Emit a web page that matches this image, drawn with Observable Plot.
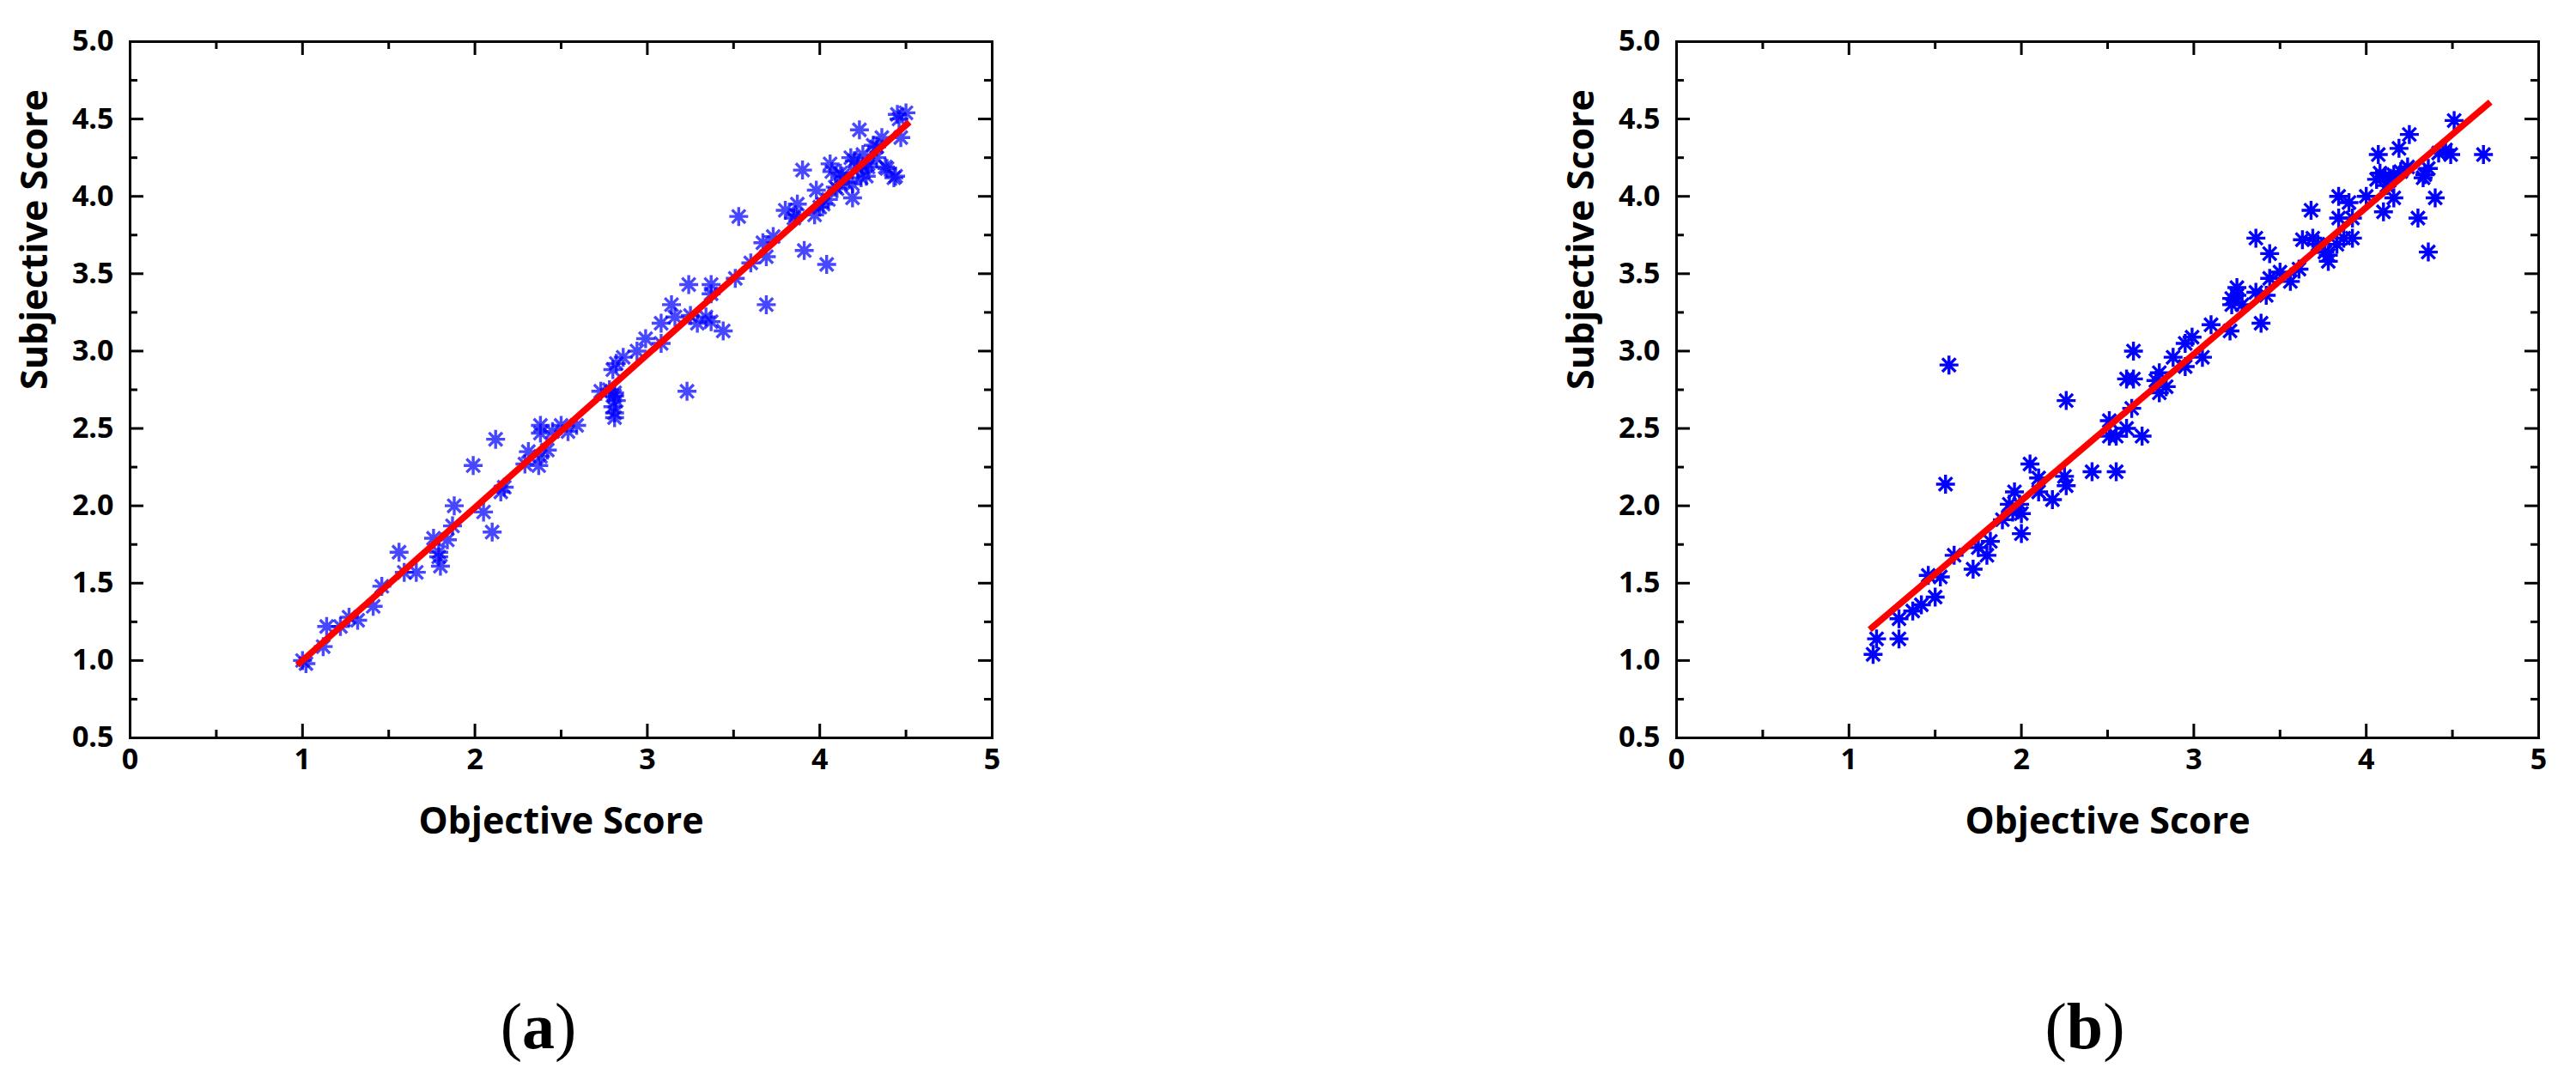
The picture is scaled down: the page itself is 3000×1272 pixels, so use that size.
<!DOCTYPE html>
<html>
<head>
<meta charset="utf-8">
<script src="https://cdn.jsdelivr.net/npm/d3@7"></script>
<script src="https://cdn.jsdelivr.net/npm/@observablehq/plot@0.6"></script>
<style>
  html, body { margin: 0; padding: 0; background: #ffffff; }
  #page { position: relative; width: 3000px; height: 1272px; background: #ffffff; overflow: hidden; }
  .panel { position: absolute; top: 0; }
  .cap { position: absolute; width: 300px; text-align: center; font-family: "Liberation Serif", "Times New Roman", serif; font-size: 76px; line-height: 76px; color: #000; }
  .cap b { font-weight: 700; }
</style>
</head>
<body>
<div id="page">
  <div id="panelA" class="panel" style="left:0px"></div>
  <div id="panelB" class="panel" style="left:1750px"></div>
  <div class="cap" style="left:477px; top:1157px">(<b>a</b>)</div>
  <div class="cap" style="left:2278px; top:1157px">(<b>b</b>)</div>
</div>
<script>
// ---- tick values / labels ----
const xTicks = [0, 1, 2, 3, 4, 5];
const xMinorTicks = [0.5, 1.5, 2.5, 3.5, 4.5];
const yTicks = [0.5, 1.0, 1.5, 2.0, 2.5, 3.0, 3.5, 4.0, 4.5, 5.0];
const yMinorTicks = [0.75, 1.25, 1.75, 2.25, 2.75, 3.25, 3.75, 4.25, 4.75];
const xTitle = "Objective Score";
const yTitle = "Subjective Score";

// ---- panel (a): [objective, subjective] ----
const pointsA = [
  [1.00,1.00],[1.02,0.98],[1.12,1.09],[1.14,1.22],[1.22,1.22],[1.27,1.28],[1.32,1.26],
  [1.41,1.35],[1.46,1.48],[1.56,1.70],[1.59,1.57],[1.66,1.57],[1.76,1.79],[1.79,1.70],
  [1.80,1.61],[1.79,1.67],[1.84,1.78],[1.87,1.87],[1.88,2.00],[1.99,2.26],[2.05,1.96],
  [2.10,1.83],[2.12,2.43],[2.15,2.09],[2.17,2.12],[2.29,2.27],[2.31,2.35],[2.37,2.26],
  [2.38,2.32],[2.42,2.36],[2.38,2.47],[2.38,2.52],[2.45,2.48],[2.50,2.52],[2.54,2.48],
  [2.59,2.52],[2.73,2.74],[2.78,2.75],[2.80,2.88],[2.82,2.92],[2.86,2.96],[2.81,2.73],
  [2.82,2.68],[2.80,2.64],[2.81,2.60],[2.81,2.57],[2.81,2.71],[2.94,3.00],[2.99,3.08],
  [3.08,3.05],[3.08,3.18],[3.14,3.30],[3.16,3.22],[3.23,2.74],[3.24,3.43],[3.25,3.23],
  [3.29,3.18],[3.34,3.22],[3.37,3.19],[3.37,3.43],[3.37,3.37],[3.44,3.13],[3.51,3.47],
  [3.53,3.87],[3.60,3.57],[3.67,3.70],[3.69,3.61],[3.69,3.30],[3.73,3.74],[3.80,3.91],
  [3.85,3.86],[3.86,3.88],[3.87,3.95],[3.90,4.17],[3.91,3.65],[3.97,3.88],[3.98,4.04],
  [4.00,3.93],[4.02,3.95],[4.04,3.56],[4.06,4.21],[4.07,4.16],[4.09,4.06],[4.10,4.05],
  [4.13,4.13],[4.15,4.09],[4.18,4.25],[4.19,3.99],[4.19,4.08],[4.20,4.23],[4.22,4.18],
  [4.23,4.43],[4.24,4.12],[4.27,4.13],[4.28,4.19],[4.28,4.21],[4.31,4.33],[4.33,4.25],
  [4.33,4.32],[4.36,4.38],[4.38,4.19],[4.39,4.18],[4.43,4.12],[4.44,4.13],[4.45,4.53],
  [4.46,4.50],[4.47,4.38],[4.50,4.54],[4.12,4.15],[4.25,4.27],[4.05,3.98]
];
const fitA = [[0.97, 0.97], [4.52, 4.48]];

// ---- panel (b): [objective, subjective] ----
const pointsB = [
  [1.14,1.04],[1.16,1.14],[1.29,1.14],[1.29,1.27],[1.37,1.32],[1.42,1.36],[1.46,1.55],
  [1.50,1.41],[1.53,1.54],[1.56,2.14],[1.58,2.91],[1.61,1.68],[1.72,1.59],[1.75,1.73],
  [1.80,1.68],[1.82,1.77],[1.89,1.91],[1.93,2.01],[1.96,2.09],[1.95,1.96],[2.00,1.95],
  [1.99,2.01],[2.00,1.82],[2.05,2.27],[2.10,2.18],[2.10,2.09],[2.18,2.04],[2.26,2.68],
  [2.25,2.19],[2.26,2.13],[2.41,2.22],[2.55,2.22],[2.51,2.55],[2.51,2.45],[2.55,2.45],
  [2.61,2.50],[2.70,2.45],[2.64,2.63],[2.61,2.82],[2.65,2.82],[2.65,3.00],[2.78,2.81],
  [2.80,2.73],[2.84,2.77],[2.80,2.86],[2.88,2.96],[2.95,2.90],[2.95,3.05],[2.99,3.09],
  [3.05,2.96],[3.10,3.17],[3.21,3.13],[3.22,3.30],[3.25,3.36],[3.22,3.34],[3.28,3.30],
  [3.25,3.41],[3.36,3.38],[3.42,3.36],[3.39,3.18],[3.44,3.47],[3.36,3.73],[3.44,3.63],
  [3.50,3.51],[3.56,3.45],[3.61,3.53],[3.63,3.72],[3.68,3.91],[3.69,3.73],[3.72,3.69],
  [3.76,3.64],[3.78,3.58],[3.78,3.62],[3.83,3.69],[3.84,3.86],[3.84,4.00],[3.87,3.73],
  [3.90,3.96],[3.92,3.73],[3.92,3.86],[4.00,4.00],[4.06,4.11],[4.07,4.27],[4.10,3.90],
  [4.11,4.13],[4.12,4.07],[4.16,4.14],[4.16,3.99],[4.19,4.31],[4.24,4.19],[4.25,4.40],
  [4.30,3.86],[4.34,4.14],[4.36,4.18],[4.36,3.64],[4.40,3.99],[4.42,4.28],[4.46,4.30],
  [4.49,4.27],[4.51,4.49],[4.68,4.27],[4.33,4.12],[4.20,4.16],[4.08,4.15],[4.13,4.10]
];
const fitB = [[1.12, 1.20], [4.72, 4.61]];

// ---- drawing ----
const asterisk = {
  draw(ctx, size) {
    const r = Math.sqrt(size / Math.PI);
    const d = r * Math.SQRT1_2;
    ctx.moveTo(-r, 0); ctx.lineTo(r, 0);
    ctx.moveTo(0, -r); ctx.lineTo(0, r);
    ctx.moveTo(-d, -d); ctx.lineTo(d, d);
    ctx.moveTo(-d, d); ctx.lineTo(d, -d);
  }
};

const FONT = "'Open Sans', 'Noto Sans', sans-serif";

function panel({points, fit, width, marginLeft, dotOpacity}) {
  const height = 1060, marginTop = 48, marginBottom = 201;
  const marginRight = width - marginLeft - 1004;
  const innerW = width - marginLeft - marginRight;
  const innerH = height - marginTop - marginBottom;
  const major = 16, minor = 9, tw = 3;
  return Plot.plot({
    width, height, marginLeft, marginRight, marginTop, marginBottom,
    x: {domain: [0, 5]},
    y: {domain: [0.5, 5]},
    style: {fontFamily: FONT, fontSize: "34px", fontWeight: 700, color: "#000", background: "#fff", overflow: "visible"},
    marks: [
      Plot.dot(points, {x: d => d[0], y: d => d[1], symbol: asterisk, r: 11,
        stroke: "#0000ff", strokeWidth: 3.4, strokeOpacity: dotOpacity, fill: "none"}),
      Plot.line(fit, {x: d => d[0], y: d => d[1], stroke: "#ff0000", strokeWidth: 7.5, strokeLinecap: "butt"}),
      // inward ticks: bottom & top
      Plot.tickX(xTicks, {x: d => d, insetTop: innerH - major, stroke: "#000", strokeWidth: tw, strokeLinecap: "butt"}),
      Plot.tickX(xTicks, {x: d => d, insetBottom: innerH - major, stroke: "#000", strokeWidth: tw, strokeLinecap: "butt"}),
      Plot.tickX(xMinorTicks, {x: d => d, insetTop: innerH - minor, stroke: "#000", strokeWidth: tw, strokeLinecap: "butt"}),
      Plot.tickX(xMinorTicks, {x: d => d, insetBottom: innerH - minor, stroke: "#000", strokeWidth: tw, strokeLinecap: "butt"}),
      // inward ticks: left & right
      Plot.tickY(yTicks, {y: d => d, insetRight: innerW - major, stroke: "#000", strokeWidth: tw, strokeLinecap: "butt"}),
      Plot.tickY(yTicks, {y: d => d, insetLeft: innerW - major, stroke: "#000", strokeWidth: tw, strokeLinecap: "butt"}),
      Plot.tickY(yMinorTicks, {y: d => d, insetRight: innerW - minor, stroke: "#000", strokeWidth: tw, strokeLinecap: "butt"}),
      Plot.tickY(yMinorTicks, {y: d => d, insetLeft: innerW - minor, stroke: "#000", strokeWidth: tw, strokeLinecap: "butt"}),
      Plot.frame({stroke: "#000", strokeWidth: 3}),
      Plot.axisX(xTicks, {anchor: "bottom", tickSize: 0, tickPadding: 12, tickFormat: d => String(d), label: null, fontSize: 34, fontWeight: 700}),
      Plot.axisY(yTicks, {anchor: "left", tickSize: 0, tickPadding: 19, tickFormat: d => d.toFixed(1), label: null, fontSize: 34, fontWeight: 700}),
      Plot.text([xTitle], {frameAnchor: "bottom", dy: 111, text: d => d, fontSize: 43, fontWeight: 700, fill: "#000"}),
      Plot.text([yTitle], {frameAnchor: "left", dx: -110, rotate: -90, text: d => d, fontSize: 43, fontWeight: 700, fill: "#000"})
    ]
  });
}

document.getElementById("panelA").append(panel({points: pointsA, fit: fitA, width: 1200, marginLeft: 151, dotOpacity: 0.72}));
document.getElementById("panelB").append(panel({points: pointsB, fit: fitB, width: 1250, marginLeft: 202, dotOpacity: 1}));
</script>
</body>
</html>
